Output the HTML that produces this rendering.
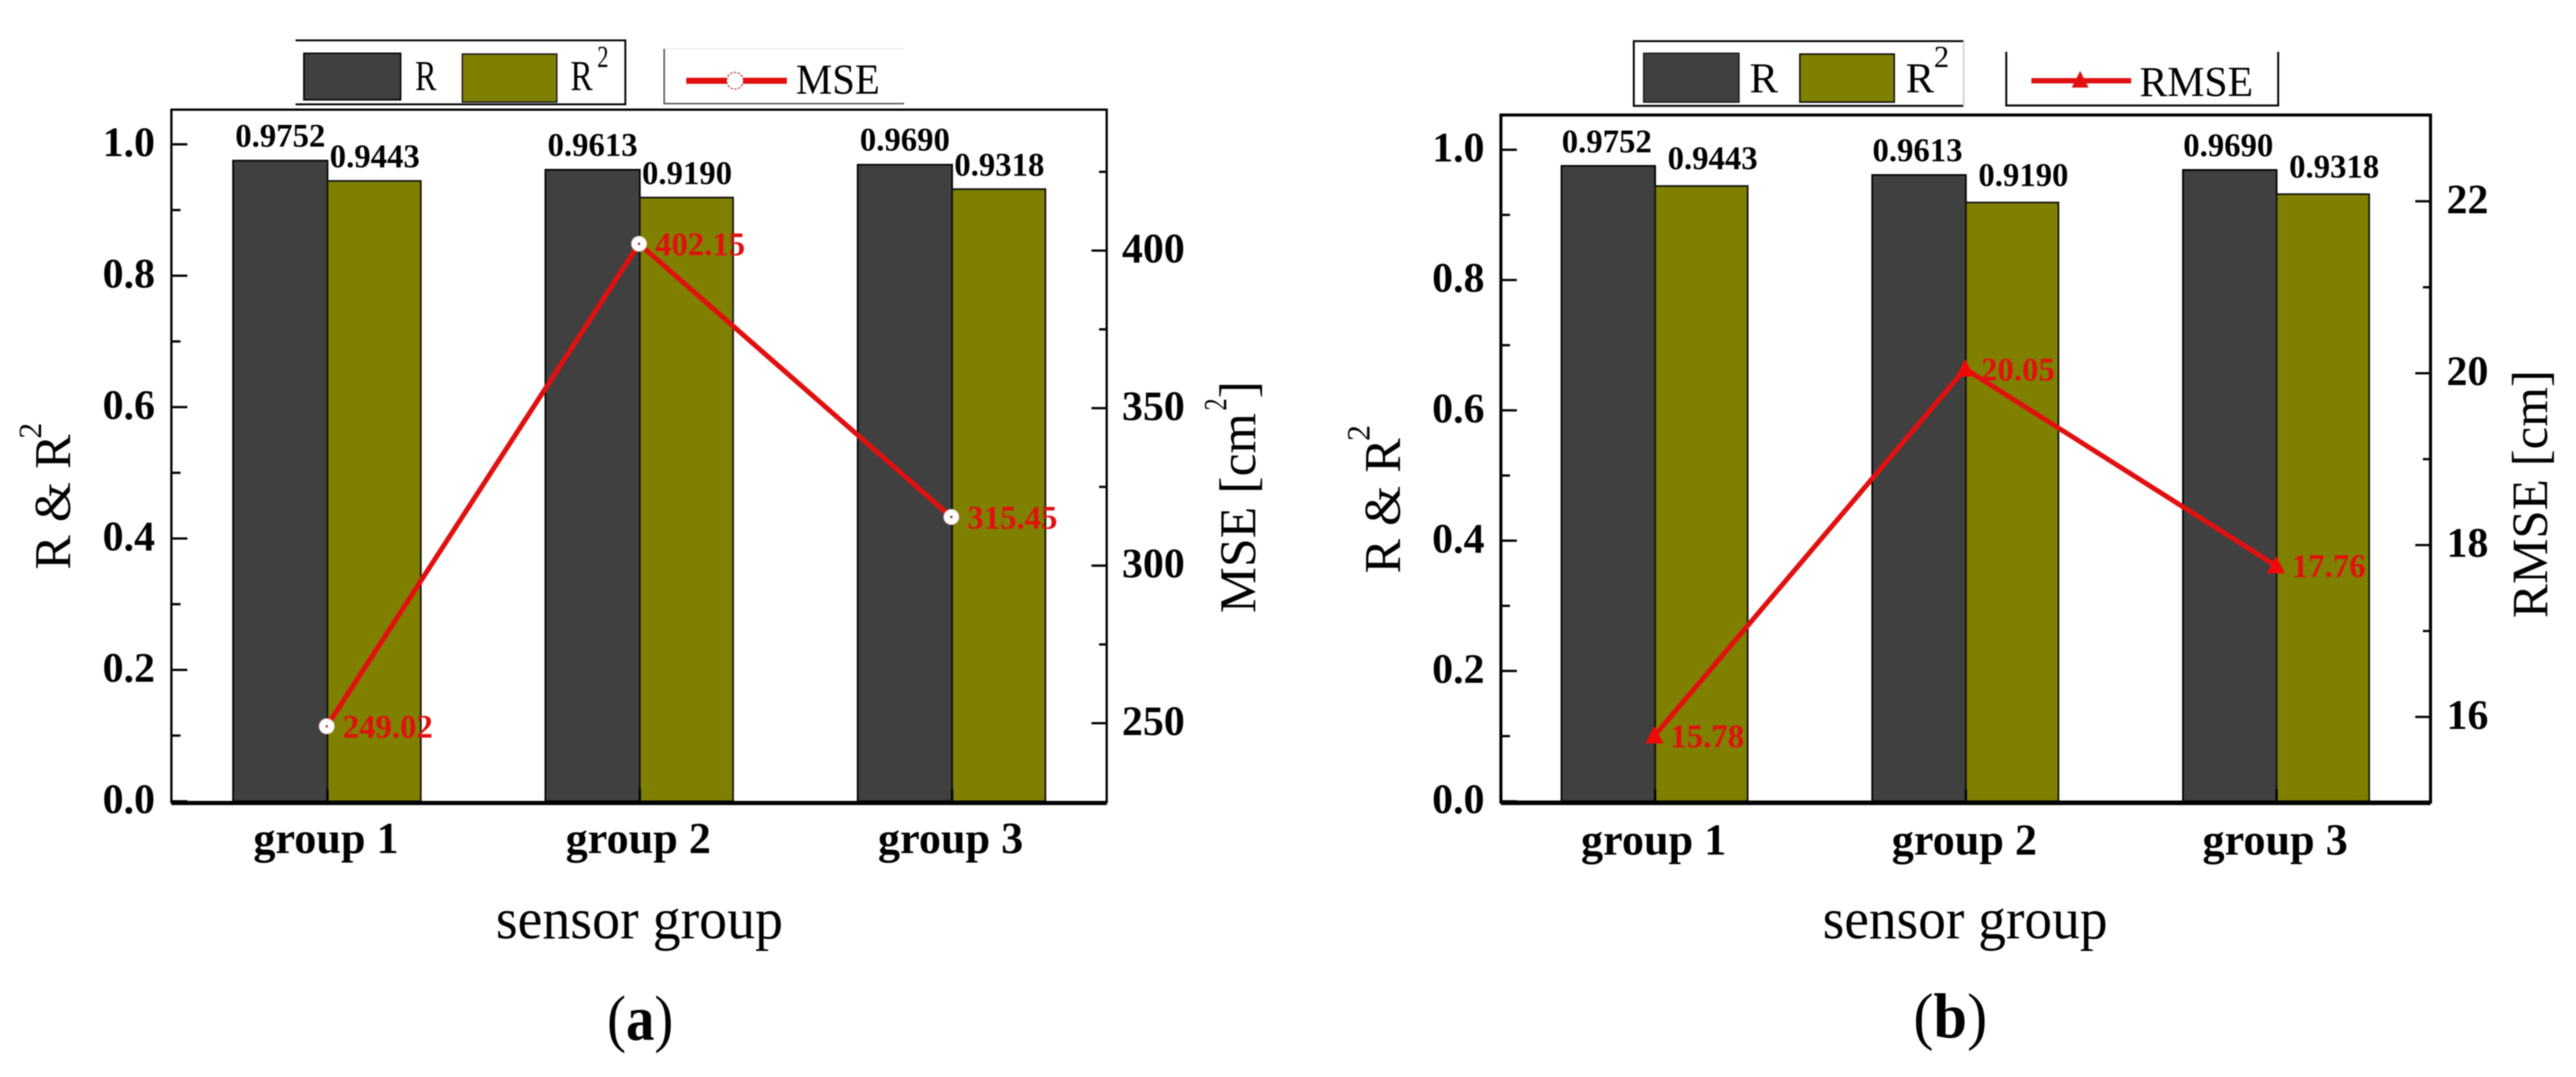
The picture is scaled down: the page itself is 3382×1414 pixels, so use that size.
<!DOCTYPE html>
<html lang="en">
<head>
<meta charset="utf-8">
<title>Sensor group R, R², MSE and RMSE</title>
<style>
html,body{margin:0;padding:0;background:#fff;width:3382px;height:1414px;overflow:hidden}
svg{display:block;filter:blur(0.7px)}
text{font-family:"Liberation Serif",serif;fill:#000}
.tick{font-size:55px;font-weight:700}
.cat{font-size:58px;font-weight:700;text-anchor:middle}
.val{font-size:43px;font-weight:700;text-anchor:middle}
.pt{font-size:43px;font-weight:700;fill:#e01010}
.title{font-size:68px}
.sup{font-size:42px}
.xtitle{font-size:76px}
.legend{font-size:56px}
.legsup{font-size:40px}
.cap{font-size:84px}
</style>
</head>
<body>
<svg id="figure" xmlns="http://www.w3.org/2000/svg" width="3382" height="1414" viewBox="0 0 3382 1414">
  <rect x="0" y="0" width="3382" height="1414" fill="#fff"/>
  <g id="panel-a"></g>
  <g id="panel-b"></g>

  <!-- Panel a static labels -->
  <g>
    <text class="title" transform="translate(92,748) rotate(-90)">R &amp; R</text>
    <text class="sup" transform="translate(54,576) rotate(-90)">2</text>
  </g>
  <g>
    <text class="title" style="font-size:68px" transform="translate(1648,805) rotate(-90)">MSE [cm</text>
    <text class="sup" textLength="16" lengthAdjust="spacingAndGlyphs" transform="translate(1610,539) rotate(-90)">2</text>
    <text class="title" style="font-size:68px" transform="translate(1648,523) rotate(-90)">]</text>
  </g>
  <text class="xtitle" x="651" y="1232" textLength="377" lengthAdjust="spacingAndGlyphs">sensor group</text>
  <text class="cap" x="797" y="1365" textLength="87" lengthAdjust="spacingAndGlyphs">(<tspan font-weight="700">a</tspan>)</text>

  <!-- Panel a legends -->
  <g>
    <path d="M388 53 H821 V137 H388" fill="#fff" stroke="#000" stroke-width="2.5"/>
    <rect x="399" y="70" width="127" height="61" fill="#404040" stroke="#000" stroke-width="2"/>
    <text class="legend" x="545" y="118" textLength="28" lengthAdjust="spacingAndGlyphs">R</text>
    <rect x="607" y="71" width="124" height="63" fill="#808000" stroke="#222" stroke-width="2"/>
    <text class="legend" x="749" y="118" textLength="29" lengthAdjust="spacingAndGlyphs">R</text>
    <text class="legsup" x="784" y="88" textLength="15" lengthAdjust="spacingAndGlyphs">2</text>
  </g>
  <g>
    <path d="M872 64 V136 H1187" fill="none" stroke="#555" stroke-width="2"/>
    <line x1="873" y1="64" x2="1187" y2="64" stroke="#eee" stroke-width="2"/>
    <line x1="901" y1="106" x2="1033" y2="106" stroke="#e01010" stroke-width="8"/>
    <circle cx="965" cy="106" r="11" fill="#fff" stroke="#b33" stroke-width="1.5" stroke-dasharray="3 2"/>
    <text class="legend" x="1045" y="123" textLength="110" lengthAdjust="spacingAndGlyphs">MSE</text>
  </g>

  <!-- Panel b static labels -->
  <g>
    <text class="title" transform="translate(1838,753) rotate(-90)">R &amp; R</text>
    <text class="sup" transform="translate(1798,579) rotate(-90)">2</text>
  </g>
  <text class="title" style="font-size:67px" transform="translate(3344,811.5) rotate(-90)">RMSE [cm]</text>
  <text class="xtitle" x="2393" y="1232" textLength="374" lengthAdjust="spacingAndGlyphs">sensor group</text>
  <text class="cap" x="2512" y="1362" textLength="97" lengthAdjust="spacingAndGlyphs">(<tspan font-weight="700">b</tspan>)</text>

  <!-- Panel b legends -->
  <g>
    <path d="M2578 54 H2145 V139 H2578" fill="#fff" stroke="#000" stroke-width="2.5"/>
    <line x1="2578" y1="54" x2="2578" y2="139" stroke="#ccc" stroke-width="2"/>
    <rect x="2158" y="70" width="125" height="64" fill="#404040" stroke="#222" stroke-width="2"/>
    <text class="legend" x="2297" y="121">R</text>
    <rect x="2363" y="71" width="124" height="63" fill="#808000" stroke="#111" stroke-width="2"/>
    <text class="legend" x="2502" y="121">R</text>
    <text class="legsup" x="2539" y="88">2</text>
  </g>
  <g>
    <path d="M2634 68 V138.5 H2991 V68" fill="none" stroke="#000" stroke-width="2.5"/>
    <line x1="2667" y1="106" x2="2798" y2="106" stroke="#e01010" stroke-width="7"/>
    <path d="M2731 93 L2742 115 H2720 Z" fill="#e01010"/>
    <text class="legend" x="2809" y="126" textLength="149" lengthAdjust="spacingAndGlyphs">RMSE</text>
  </g>
</svg>

<script>
// ---- chart data ----
var categories = ['group 1', 'group 2', 'group 3'];
var rValues = [0.9752, 0.9613, 0.9690];
var r2Values = [0.9443, 0.9190, 0.9318];
var mseValues = [249.02, 402.15, 315.45];
var rmseValues = [15.78, 20.05, 17.76];
var leftMajorTicks = [0, 0.2, 0.4, 0.6, 0.8, 1.0];
var leftMinorTicks = [0.1, 0.3, 0.5, 0.7, 0.9];
var mseMajorTicks = [250, 300, 350, 400];
var mseMinorTicks = [275, 325, 375, 425];
var rmseMajorTicks = [16, 18, 20, 22];
var rmseMinorTicks = [17, 19, 21];

var NS = 'http://www.w3.org/2000/svg';

function linear(d0, d1, r0, r1) {
  return function (v) { return r0 + (v - d0) * (r1 - r0) / (d1 - d0); };
}

function shape(parent, tag, attrs, text) {
  var el = document.createElementNS(NS, tag);
  for (var k in attrs) el.setAttribute(k, attrs[k]);
  if (text !== undefined) el.textContent = text;
  parent.appendChild(el);
  return el;
}

function drawPanel(p) {
  var g = document.getElementById(p.id);
  var xCenter = function (i) { return p.xStart + (i + 0.5) * p.step; };
  var yLeft = linear(0, 1, p.y0, p.y1);
  var yRight = linear(p.rD0, p.rD1, p.rR0, p.rR1);

  // bars
  categories.forEach(function (name, i) {
    var c = xCenter(i);
    var rBar = shape(g, 'rect', {x: c - p.barW, y: yLeft(rValues[i]), width: p.barW, height: p.y0 - yLeft(rValues[i]), fill: '#404040', stroke: '#000', 'stroke-width': 2.2});
    
    
    var r2Bar = shape(g, 'rect', {x: c, y: yLeft(r2Values[i]), width: p.barW - 1.5, height: p.y0 - yLeft(r2Values[i]), fill: '#808000', stroke: '#111', 'stroke-width': 2.2});
    
    
  });

  // frame
  var frame = shape(g, 'path', {d: 'M' + p.left + ' ' + p.top + ' H' + p.right + ' V' + p.bottom + ' H' + p.left + ' Z', fill: 'none', stroke: '#000', 'stroke-width': p.frameW});
  
  
  var base = shape(g, 'line', {x1: p.left, y1: p.y0 + 2.5, x2: p.right, y2: p.y0 + 2.5, stroke: '#000', 'stroke-width': 5});
  
  

  // left ticks
  leftMajorTicks.forEach(function (v) {
    var t = shape(g, 'line', {x1: p.left, y1: yLeft(v), x2: p.left + 21, y2: yLeft(v), stroke: '#000', 'stroke-width': 3});
    
    
    var l = shape(g, 'text', {'class': 'tick', x: p.leftLabelX, y: yLeft(v) + 15.5, 'text-anchor': 'end'}, v.toFixed(1));
    
    
  });
  leftMinorTicks.forEach(function (v) {
    var t = shape(g, 'line', {x1: p.left, y1: yLeft(v), x2: p.left + 12, y2: yLeft(v), stroke: '#000', 'stroke-width': 3});
    
    
  });

  // right ticks
  p.majorTicks.forEach(function (v) {
    var t = shape(g, 'line', {x1: p.right, y1: yRight(v), x2: p.right - 20, y2: yRight(v), stroke: '#000', 'stroke-width': 3});
    
    
    var l = shape(g, 'text', {'class': 'tick', x: p.rightLabelX, y: yRight(v) + 15.5}, String(v));
    
    
  });
  p.minorTicks.forEach(function (v) {
    var t = shape(g, 'line', {x1: p.right, y1: yRight(v), x2: p.right - 10, y2: yRight(v), stroke: '#000', 'stroke-width': 3});
    
    
  });

  // categories
  categories.forEach(function (name, i) {
    var c = xCenter(i);
    var t = shape(g, 'line', {x1: c, y1: p.y0, x2: c, y2: p.y0 - 16, stroke: '#000', 'stroke-width': 3});
    
    
    var l = shape(g, 'text', {'class': 'cat', x: c - 2, y: p.catY}, name);
    
    
  });

  // line series
  var pts = p.series.map(function (v, i) {
    return (xCenter(i) + p.ptShift) + ',' + yRight(v);
  }).join(' ');
  var poly = shape(g, 'polyline', {points: pts, fill: 'none', stroke: '#e01010', 'stroke-width': 6.5});
  
  

  // markers and labels
  p.series.forEach(function (v, i) {
    var x = xCenter(i) + p.ptShift, y = yRight(v), m;
    if (p.marker === 'circle') {
      m = shape(g, 'circle', {cx: x, cy: y, r: 10, fill: '#fff', stroke: '#e8c0c0', 'stroke-width': 1});
      var dot = shape(g, 'circle', {cx: x, cy: y, r: 1.6, fill: '#933'});
      
      
    } else {
      m = shape(g, 'path', {d: 'M' + x + ' ' + (y - 13) + ' L' + (x + 12) + ' ' + (y + 10) + ' H' + (x - 12) + ' Z', fill: '#f00808'});
    }
    
    
    var l = shape(g, 'text', {'class': 'pt', x: x + 21, y: y + 15}, v.toFixed(2));
    
    
  });

  // bar value labels
  categories.forEach(function (name, i) {
    var c = xCenter(i);
    var a = shape(g, 'text', {'class': 'val', x: c - p.barW / 2 + p.rLabelDx, y: yLeft(rValues[i]) - p.rLabelGap}, rValues[i].toFixed(4));
    
    
    var b = shape(g, 'text', {'class': 'val', x: c + p.barW / 2 + p.r2LabelDx, y: yLeft(r2Values[i]) - p.r2LabelGap}, r2Values[i].toFixed(4));
    
    
  });
}

drawPanel({
  id: 'panel-a', left: 225, right: 1453, top: 144, bottom: 1053, frameW: 3,
  xStart: 225, step: 410, barW: 124, y0: 1052, y1: 189.5,
  rD0: 250, rD1: 400, rR0: 949.5, rR1: 329,
  series: mseValues, seriesName: 'mse', marker: 'circle', ptShift: -1,
  majorTicks: mseMajorTicks, minorTicks: mseMinorTicks,
  leftLabelX: 203.5, rightLabelX: 1473, catY: 1120,
  rLabelDx: 0, r2LabelDx: 0, rLabelGap: 18.5, r2LabelGap: 18
});

drawPanel({
  id: 'panel-b', left: 1970.5, right: 3191, top: 151, bottom: 1053, frameW: 4,
  xStart: 1969, step: 408, barW: 123, y0: 1052, y1: 196.6,
  rD0: 16, rD1: 22, rR0: 941.3, rR1: 264.3,
  series: rmseValues, seriesName: 'rmse', marker: 'triangle', ptShift: -1,
  majorTicks: rmseMajorTicks, minorTicks: rmseMinorTicks,
  leftLabelX: 1949, rightLabelX: 3212, catY: 1122,
  rLabelDx: -2, r2LabelDx: 14, rLabelGap: 18, r2LabelGap: 22
});
</script>
</body>
</html>
